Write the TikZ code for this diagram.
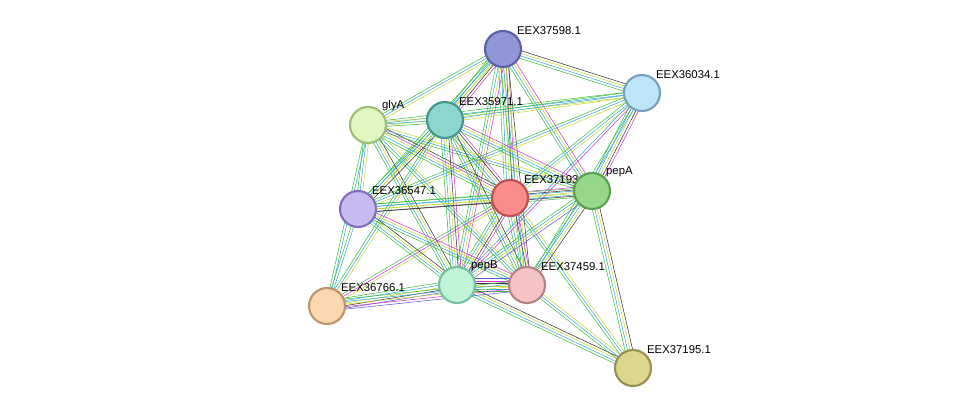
\documentclass[tikz,border=0pt]{standalone}
\usepackage{fontspec}
\setmainfont{Liberation Sans}
\usetikzlibrary{calc,backgrounds}
\definecolor{eg}{RGB}{60,190,60}
\definecolor{eb}{RGB}{50,170,220}
\definecolor{ey}{RGB}{200,215,50}
\definecolor{ek}{RGB}{50,50,50}
\definecolor{em}{RGB}{215,50,215}
\definecolor{ep}{RGB}{90,90,220}
\definecolor{f98}{RGB}{145,150,215}\definecolor{d98}{RGB}{90,95,170}
\definecolor{f34}{RGB}{190,228,248}\definecolor{d34}{RGB}{120,160,190}
\definecolor{fgly}{RGB}{225,245,190}\definecolor{dgly}{RGB}{160,190,120}
\definecolor{f71}{RGB}{140,215,205}\definecolor{d71}{RGB}{70,150,140}
\definecolor{f93}{RGB}{250,140,140}\definecolor{d93}{RGB}{190,80,80}
\definecolor{fpa}{RGB}{150,215,140}\definecolor{dpa}{RGB}{90,160,80}
\definecolor{f47}{RGB}{200,185,240}\definecolor{d47}{RGB}{130,110,190}
\definecolor{fpb}{RGB}{190,245,215}\definecolor{dpb}{RGB}{120,190,160}
\definecolor{f59}{RGB}{245,195,195}\definecolor{d59}{RGB}{180,130,130}
\definecolor{f66}{RGB}{250,215,175}\definecolor{d66}{RGB}{190,150,110}
\definecolor{f95}{RGB}{220,215,140}\definecolor{d95}{RGB}{150,145,80}
\newcommand\link[4]{%
  \foreach \c [count=\i] in {#4} {
    \pgfmathsetmacro\o{(\i-(#3+1)/2)*1.9}
    \draw[\c] ($(#1)!\o pt!90:(#2)$) -- ($(#2)!\o pt!-90:(#1)$);
  }}
\begin{document}
\begin{tikzpicture}[
  x=0.75pt, y=-0.75pt,
  line width=1.05pt,
  prot/.style={
    circle,
    draw=d#1,
    fill=f#1,
    line width=1.6pt,
    minimum size=27pt,
    inner sep=0pt
    },
  lab/.style={
    font=\fontsize{8.5}{10}\selectfont,
    inner sep=0pt
    }
]
\useasboundingbox (0,0) rectangle (975,414);

\node[prot=98, label={[lab]45:EEX37598.1}] (s98) at (503,49) {};
\node[prot=34, label={[lab]45:EEX36034.1}] (s34) at (642,93) {};
\node[prot=gly, label={[lab]45:glyA}] (gly) at (368,125) {};
\node[prot=71, label={[lab]45:EEX35971.1}] (s71) at (445,120) {};
\node[prot=93, label={[lab]45:EEX37193.1}] (s93) at (510,198) {};
\node[prot=pa, label={[lab]45:pepA}] (pa) at (592,191) {};
\node[prot=47, label={[lab]45:EEX36547.1}] (s47) at (358,209) {};
\node[prot=pb, label={[lab]45:pepB}] (pb) at (457,285) {};
\node[prot=59, label={[lab]45:EEX37459.1}] (s59) at (527,285) {};
\node[prot=66, label={[lab]45:EEX36766.1}] (s66) at (327,306) {};
\node[prot=95, label={[lab]45:EEX37195.1}] (s95) at (633,368) {};

\begin{pgfonlayer}{background}
\link{s98}{s34}{4}{eg,eb,ey,ek}
\link{s98}{gly}{3}{eg,eb,ey}
\link{s98}{s71}{5}{eg,eb,ey,ek,em}
\link{s98}{s47}{3}{eg,eb,ey}
\link{s98}{s93}{5}{eg,eb,ey,ek,em}
\link{s98}{pa}{4}{eg,eb,ey,em}
\link{s98}{pb}{4}{eg,eb,ey,em}
\link{s98}{s59}{4}{eg,eb,ey,ek}
\link{s34}{gly}{3}{eg,eb,ey}
\link{s34}{s71}{3}{eg,eb,ey}
\link{s34}{s93}{3}{eg,eb,ey}
\link{s34}{pa}{5}{eg,eb,ey,ek,em}
\link{s34}{s47}{3}{eg,eb,ey}
\link{s34}{pb}{2}{eb,em}
\link{s34}{s59}{2}{eg,eb}
\link{gly}{s71}{3}{eg,eb,ey}
\link{gly}{s93}{5}{eg,eb,ey,em,ek}
\link{gly}{pa}{3}{eg,eb,ey}
\link{gly}{s47}{3}{eg,eb,ey}
\link{gly}{pb}{4}{eg,eb,ey,ek}
\link{gly}{s59}{3}{eg,eb,ey}
\link{gly}{s66}{2}{eg,eb}
\link{s71}{s93}{5}{eg,eb,ey,ek,em}
\link{s71}{pa}{4}{eg,eb,ey,em}
\link{s71}{s47}{4}{eg,eb,ey,ek}
\link{s71}{pb}{5}{eg,eb,ey,ek,em}
\link{s71}{s59}{4}{eg,eb,ey,ek}
\link{s71}{s66}{3}{eg,eb,ey}
\link{s93}{pa}{5}{eg,eb,ey,ek,em}
\link{s93}{s47}{4}{eg,eb,ey,ek}
\link{s93}{pb}{5}{eg,eb,ey,ek,em}
\link{s93}{s59}{5}{eg,eb,ey,ek,em}
\link{s93}{s66}{3}{eg,em,ey}
\link{s93}{s95}{3}{eg,eb,ey}
\link{pa}{s47}{4}{eg,eb,ey,ek}
\link{pa}{pb}{4}{eg,eb,ey,ep}
\link{pa}{s59}{4}{eg,eb,ey,ek}
\link{pa}{s95}{4}{eg,eb,ey,ek}
\link{s47}{pb}{4}{eg,eb,ey,ek}
\link{s47}{s59}{4}{eg,eb,ey,em}
\link{s47}{s66}{2}{eg,eb}
\link{pb}{s59}{6}{eg,eb,ey,ek,em,ep}
\link{pb}{s66}{5}{eg,eb,ey,ek,ep}
\link{pb}{s95}{4}{eg,eb,ey,ek}
\link{s59}{s95}{3}{eg,eb,ey}
\link{s59}{s66}{5}{eg,eb,ey,em,ep}
\end{pgfonlayer}
\end{tikzpicture}
\end{document}
